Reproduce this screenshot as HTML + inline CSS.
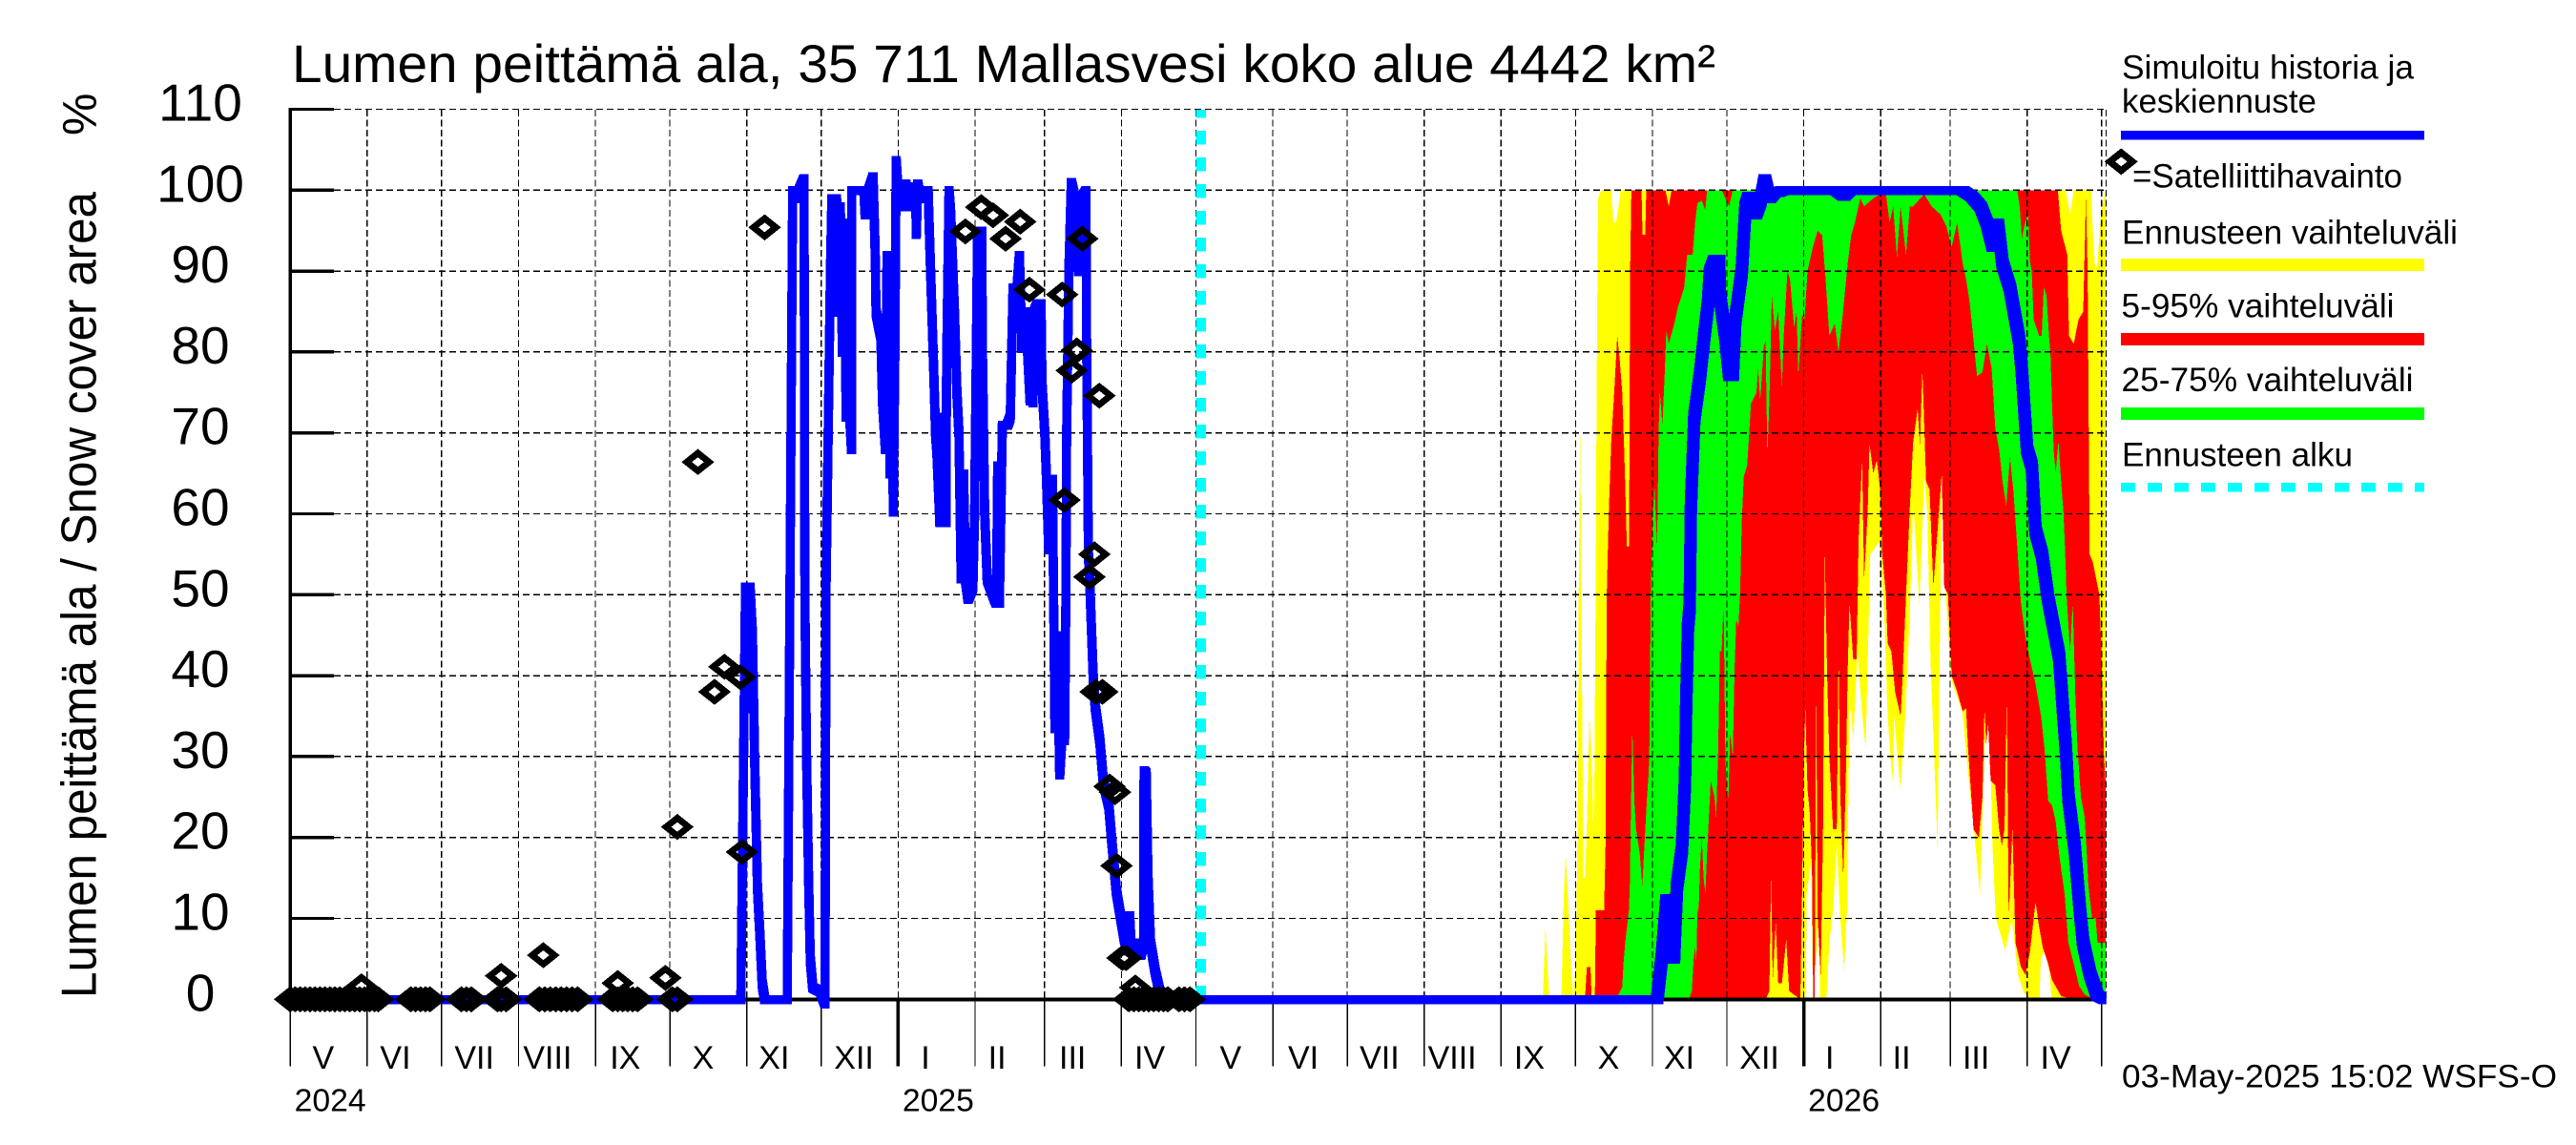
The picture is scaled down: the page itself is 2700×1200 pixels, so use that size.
<!DOCTYPE html>
<html lang="fi">
<head>
<meta charset="utf-8">
<title>Lumen peittämä ala</title>
<style>
html,body{margin:0;padding:0;background:#fff;}
svg{display:block;}
text{font-family:"Liberation Sans",sans-serif;fill:#000;}
</style>
</head>
<body>
<svg id="chart" xmlns="http://www.w3.org/2000/svg" width="2700" height="1200" viewBox="0 0 2700 1200">
  <defs>
    <clipPath id="plot-clip"><rect x="0" y="0" width="2207.8" height="1200"/></clipPath>
  </defs>
  <rect x="0" y="0" width="2700" height="1200" fill="#fff"/>
  <g id="bands"></g>
  <g id="grid"></g>
  <line x1="1258.7" y1="1047.3" x2="1258.7" y2="115" stroke="#00ffff" stroke-width="10.7" stroke-dasharray="14.5 13.5" shape-rendering="crispEdges"/>
  <g id="series" clip-path="url(#plot-clip)"></g>
  <g id="observations"></g>

  <text x="306" y="86" font-size="56" textLength="1492" lengthAdjust="spacingAndGlyphs">Lumen peittämä ala, 35 711 Mallasvesi koko alue 4442 km²</text>
  <text transform="translate(100.5 1046) rotate(-90)" x="0" y="0" font-size="52" textLength="845" lengthAdjust="spacingAndGlyphs">Lumen peittämä ala / Snow cover area</text>
  <text transform="translate(100.5 142) rotate(-90)" x="0" y="0" font-size="50">%</text>

  <g>
    <text x="2224" y="82.6" font-size="35" textLength="306" lengthAdjust="spacingAndGlyphs">Simuloitu historia ja</text>
    <text x="2224" y="118" font-size="35" textLength="204" lengthAdjust="spacingAndGlyphs">keskiennuste</text>
    <rect x="2223" y="137" width="318" height="9.7" fill="#0000ff" shape-rendering="crispEdges"/>
    <path fill="#000" fill-rule="evenodd" shape-rendering="crispEdges" d="M2205.8 169.4L2223.3 155.4L2240.8 169.4L2223.3 183.4ZM2217 169.4L2223.3 174.4L2229.6 169.4L2223.3 164.4Z"/>
    <text x="2235" y="196.3" font-size="35" textLength="283" lengthAdjust="spacingAndGlyphs">=Satelliittihavainto</text>
    <text x="2224" y="255.5" font-size="35" textLength="352" lengthAdjust="spacingAndGlyphs">Ennusteen vaihteluväli</text>
    <rect x="2223" y="271" width="318" height="13" fill="#ffff00" shape-rendering="crispEdges"/>
    <text x="2223.5" y="332.3" font-size="35" textLength="286" lengthAdjust="spacingAndGlyphs">5-95% vaihteluväli</text>
    <rect x="2223" y="349" width="318" height="13" fill="#ff0000" shape-rendering="crispEdges"/>
    <text x="2223.5" y="409.8" font-size="35" textLength="306" lengthAdjust="spacingAndGlyphs">25-75% vaihteluväli</text>
    <rect x="2223" y="427" width="318" height="13" fill="#00ff00" shape-rendering="crispEdges"/>
    <text x="2224" y="488.3" font-size="35" textLength="242" lengthAdjust="spacingAndGlyphs">Ennusteen alku</text>
    <line x1="2223" y1="510.7" x2="2541" y2="510.7" stroke="#00ffff" stroke-width="9.6" stroke-dasharray="15 13" shape-rendering="crispEdges"/>
  </g>
  <text x="2224" y="1139.3" font-size="34" textLength="456" lengthAdjust="spacingAndGlyphs">03-May-2025 15:02 WSFS-O</text>
</svg>
<script>
// ---------- axis data ----------
const yTickValues = [0,10,20,30,40,50,60,70,80,90,100,110];
const monthStartDays = [0,31,61,92,123,153,184,214,245,276,304,335,365,396,426,457,488,518,549,579,610,641,669,700,730];
const monthLabels = ['V','VI','VII','VIII','IX','X','XI','XII','I','II','III','IV','V','VI','VII','VIII','IX','X','XI','XII','I','II','III','IV'];
const monthLabelDays = [13.3,42.4,74.2,103.7,135,166.4,195,227.2,256,284.9,315.3,346.4,379,408.3,439,468.3,499.4,531.3,559.8,592.1,620.4,649.4,679.4,711.5];
const yearLabels = ['2024','2025','2026'];
const yearStartDays = [0,245,610];

// ---------- forecast contours (days since 2024-05-01, percent) ----------
const maxDays = [504.8,505.9,507.4,512.3,513.3,514,515.2,516.2,517,518.1,518.9,519.3,519.9,520.6,521.2,521.8,522.6,523.6,524.5,525.1,525.6,526.2,526.5,527.1,528.4,532.4,533.3,534.3,535.3,536.2,713,715.6,717.3,718.8,723.9,725.8,726.5,727.5,728.4,729.7,731.6];
const maxValues = [0,9,0,0,13,18,11,4,0,4,23,50,70,40,15,15,22,35,30,22,25,55,75,99,100,100,96,96,98,100,100,100,97,100,100,100,95,90,91,97,100];

const p95Days = [521.8,522.6,524,524.5,525.8,526.2,529.5,530.1,530.6,531.4,532.4,533.6,534.8,535.8,536.8,537.7,538.7,539.6,540,540.5,544.6,545,546.1,546.5,554.2,555.6,556.7,712.4,713.7,716.2,716.9,718.8,720.7,722.6,723.7,724.4,725.2,726.5,727.8,729.1,729.7,731,731.6];
const p95Values = [0,4,4,0,0,11,11,19,50,60,69,75,82,79,75,67,56,56,90,100,100,94.5,94.5,100,100,98,100,100,95,92,82,81,84,85,99,90,55,54,52,50,45,30,27];

const p75Days = [534.3,536.8,537.3,538,539.5,539.9,540.2,540.9,541.7,542.4,543.9,544.9,545.6,546.8,547.5,547.8,548.3,549,549.8,550.9,551.5,552,553,553.9,554.6,555.6,557.8,559.3,560.8,561.8,563,565.2,566.2,567.1,568.9,570.3,571,576.9,578.4,579.9,581.4,696,697,697.9,698.9,700.4,701.2,701.9,702.6,704.8,705.9,706.7,707.8,708.8,709.4,710,710.7,711.5,712.6,713.7,714.7,715.6,715.9,717.3,718.4,719.5,720.3,721.7,723.2,723.9,724.7,726.2,727.6,728.4,731.6];
const p75Values = [0,1.5,4.4,7,11,14.4,21,33.5,24.5,21,18,14,18,25,28,32,50,59,63.5,56,70.5,75,71,77,82.7,81,83.5,85.6,87,88,92,92,96,98.4,98.7,97.5,100,100,99,98,100,100,98,94,95.6,97,91,90,84,82,82,88,87,82,80,74,68,65,69,64,60,53,50,43,49,37,31,25,22.5,19,14,10,10,7,7];

const p25Days = [534.3,563.7,564.9,565.6,566.2,566.7,567.1,567.7,568.1,568.9,569.6,570.3,571,571.8,572.5,574,574.7,575.5,576.2,576.9,577.7,578.4,579,579.6,580.3,581.4,582.1,582.8,583.6,584.3,585,585.8,587.2,588,588.7,590.9,591.6,592.4,593.9,594.6,595.3,596.1,597.1,598.3,599.7,601.2,601.9,603.4,604.4,606.1,607.1,607.8,609.3,610.3,611.5,613.7,615.6,617.4,618.8,620.3,622.5,624,625.5,627.7,629.1,630.6,632.8,634.3,638,640.9,643.1,644.6,646,647.5,649,651.2,652.7,654.1,658.5,661.5,665.1,667.4,669.6,671.8,674,675.4,676.9,678.4,679.8,682,683.8,685.7,687.2,688.7,690.1,691.6,693.1,694.5,696,697.5,699.7,701.9,703.4,705.6,707,708.5,710,711.5,712.9,715.1,716.6,718.8,721,723.2,726.9,731.6];
const p25Values = [0,0,1,5,6.4,4.6,10.7,11.5,16,20,15,13,18,23,27,25,22.5,31,43,43,49,30,25,25,33,30,41,47,46,50,59,64.6,66,70,73.6,75,78,74,80.7,81.5,67,74,87,82.7,85,75.6,82,90,89,83,85,77,84.6,84,90,93,95,94.4,89,82,83.5,80,84,91,94.4,96,99,98,99,99.5,99.5,96,98,91.7,98,92,98,98,99.5,98,97,95.6,93,96,91,89,86,81.5,77,77.5,81,78,70.5,68,64,61,67,62.7,56,49,44,41,39,35,31,24.5,24,22,18,13,7,4.4,1.6,0.6,0,0];

const p5Days = [521.8,594.6,596.1,596.8,597.5,598.7,599.7,601.2,602.9,604.1,608.6,609.3,610,610.6,611.5,612.4,613.3,613.8,614.4,615,615.6,616.8,617.7,618.5,619.4,620.3,621.8,623.3,624,624.7,625.9,626.9,627.7,628.4,629.9,631.3,632.1,633.5,634.3,635.7,636.5,638,639.4,640.9,641.6,643.1,643.8,645.3,646.8,649,649.7,651.2,652.7,654.1,655.9,656.8,657.8,659.3,660.7,662.2,664.4,665.6,666.6,668.1,669.6,671.8,674,675.4,676.2,678.4,680.6,682,682.8,683.5,684.3,685.3,687.2,688.7,689.8,690.9,691.8,692.6,694.1,695.3,697.5,699.4,701.2,703.4,704.8,706.3,708.5,710,713.7,718.8,731.6];
const p5Values = [0,0,1,15,2.4,9.5,2,2,7.4,1,0,13,29,36,26,23,16,0,0,39,10,3,20,55,40,30,21,21,43,25,15,27,41,49,42,42,57,66.6,52,60,68.7,65,66.6,62.7,55,50,44,43,38,35,39,50,60.7,69,73,68.5,77.8,64,63,51,60,65,51,50,40,38,35.6,36,31,21,20,25,36,31.5,34,27,26.4,21,19,21,37,10,21,7,4,3,6,12,9,6.4,4.4,2.4,0.4,0,0];

const minDays = [504.8,610.8,611.2,613,613.7,615.9,616.6,619.1,620.3,621.8,623.3,624.7,626.2,627.4,628.4,629.1,629.9,631.6,633.6,634.9,636.8,640.6,642.5,643.8,645.7,646.4,648.9,650.9,652.8,654.1,656.6,658.6,659.8,661.1,663,663.9,665,665.6,667.5,669.5,673.9,676.5,678.4,681,682.9,684.8,686.1,687.4,691.2,693.8,696.4,698.9,701.5,705,705.5,707.3,709.2,709.8,731.6];
const minValues = [0,0,13,17,0,9.5,0,0,7,11,19,10,3.6,11,35.6,35.6,32,43,35,31,55,56.6,47,35,26.6,35,26,35,48,61.6,48.7,64.8,60,41.6,26,18.7,48.7,64,48.7,39.4,35.5,27,21.6,13,31.6,34.4,18.7,10,6,10,3,0.7,0,0,5,6,3,0,0];

// ---------- simulated history ----------
const historyDays = [
  0,181.6,183.5,185.3,186.3,187.2,188.3,189.3,190.2,191.2,
  200.3,202.5,203.7,207.1,207.4,208.1,208.9,209.6,210.6,213.7,
  215.5,215.8,215.9,217.7,218.3,220.2,220.8,221.7,222.5,223.4,
  224,224.9,225.5,226.2,226.3,231.2,231.7,233.1,234.9,235.8,
  236.1,238,238.7,239.9,240.5,241.4,241.7,242.4,243,243.7,
  244.2,245.2,247.1,248.1,249.3,250.8,252,252.3,252.9,254,
  255.2,257.1,258.1,259.3,260.1,260.6,261.8,262.6,263.3,264.3,
  264.5,265.5,266.2,267.7,268.7,269.5,270.4,271.4,272.1,273.2,
  275.1,275.8,276.5,277,278.7,279,279.9,280.9,283.9,284.6,
  285.1,285.8,287,289,290.2,291.3,292.7,293.9,294.9,296.1,
  297.1,298.2,299,299.4,299.8,301.1,302.6,303,304.1,304.8,
  305.7,307.2,308.2,309.1,310.1,311.1,312.1,312.6,312.9,313.8,
  314.8,316.3,317.7,319.2,320.7,321,321.7,322.2,323.6,324.4,
  326.3,327.7,329.9,331,332.9,336.1,337.4,338.3,339,340.6,
  342.8,343.9,344.1,345,345.7,346.7,348.6,350.8,353];
const historyValues = [
  0,0,51,51,45,29,14,8,2,0,
  0,100,99,101.5,50,30,15,5,1.5,1,
  -0.5,30,50,90,99,99,85,98,80,96,
  72,92,72,68,100,100,97,100,101.7,92,
  85,82,74,68,92,92,65,90,60.3,80,
  103.7,98.5,98,100.8,98,99,100.5,94.6,100.8,99,
  100,100,90,78,70,68,59,72,59,59,
  78,100,97,85,75,70,52,65,52,49.5,
  51,60,80,95,95,80,60,52,49.5,49,
  66,49,71,71,72,88,87,92,80.5,85,
  80.5,74,84,73.8,85,86,86,76,70,64.3,
  55.6,64.3,33.5,45,27.8,33,32,50,70,90,
  101,99,90,99,100,80,55,52,40,36.3,
  32,27,24,20,13.5,7.6,6,10.4,6,7,
  5.5,7,28.3,28,15,7,3.5,0.5,0];

// ---------- mean forecast ----------
const forecastMeanDays = [
  550.9,552.7,554.7,555.9,557.1,557.7,558.9,560.9,562.1,562.5,
  563.3,564,564.5,565.9,568.1,569.9,571.4,572.2,574,575.9,
  576.2,578.4,580,581.4,582.4,585,586.5,587.7,589.7,590.6,
  592.4,594.3,596.1,598.3,599.7,601.2,623.2,626.2,628.4,674,
  677.6,681.3,683.8,686.2,688.2,690.1,693.1,696.8,697.8,699,
  700,701.9,703.4,706,708.5,712.9,715.6,716.7,719.1,721.3,
  722.6,725.4,728.4,731.6];
const forecastMeanValues = [
  0,5,12.5,12.5,5,5,14,18.6,27,35,
  46,48.5,61,72,77,82,86,90,91.5,91.5,
  87,82,77,77,84,90,98,99.3,99.3,97,
  98.5,101.5,99,99.8,99.8,100,100,99.3,100,100,
  99.3,98,96,93,96,91,88,81.5,78,72.5,
  68,66,58,55,49.5,42.5,31,25,19,11,
  7,3.2,0.5,0];

// ---------- satellite observations ----------
const obsDays = [0,2,4,6,8,10,12,14,16,18,20,22,24,26,28,30,32,34,35.5,28.7,48.6,50.5,52.5,54.5,56.3,69,71,73,83.5,85,87,85,102,100.4,102.6,104.8,107,109.2,111.4,113.6,115.8,132,130,132,134,136,138,140,151.2,154,156,156,164.3,171,175,181.4,182.1,191.2,272.1,278.5,283.2,288.3,294.2,297.9,311.1,312,315,317,319.2,322.1,324.1,324.6,326.1,327.3,330.2,332.4,333,335.4,336.9,338,340,340.6,342,344,346,348,350,352,353.7,358.2,360.4,362.6];
const obsValues = [0,0,0,0,0,0,0,0,0,0,0,0,0,0,0,0,0,0,0,1.6,0,0,0,0,0,0,0,0,0,0,0,2.9,5.45,0,0,0,0,0,0,0,0,2,0,0,0,0,0,0,2.65,0,0,21.3,66.4,38,41.1,39.8,18.2,95.4,94.9,97.9,96.9,94,96.1,87.7,87.1,61.7,77.7,80.2,94,52.2,55,38,74.6,38,26.3,25.6,16.5,5.1,5.1,0,0,1.45,0,0,0,0,0,0,0,0,0,0];

// ---------- axis functions ----------
const xAxis = d => 304.2 + 2.6007 * d;
const yAxis = v => 1047.3 - 8.48 * v;
const NS = 'http://www.w3.org/2000/svg';
const make = (tag, parent) => { const e = document.createElementNS(NS, tag); parent.appendChild(e); return e; };

// ---------- bands ----------
const bandsG = document.getElementById('bands');
function bandPath(topD, topV, botD, botV) {
  let s = '';
  for (let i = 0; i < topD.length; i++) s += (i ? 'L' : 'M') + xAxis(topD[i]).toFixed(1) + ' ' + yAxis(topV[i]).toFixed(1);
  for (let i = botD.length - 1; i >= 0; i--) s += 'L' + xAxis(botD[i]).toFixed(1) + ' ' + yAxis(botV[i]).toFixed(1);
  return s + 'Z';
}
const rangeBand = make('path', bandsG);


rangeBand.setAttribute('d', bandPath(maxDays, maxValues, minDays, minValues));
rangeBand.setAttribute('fill', '#ffff00');
rangeBand.setAttribute('shape-rendering', 'crispEdges');

const band595 = make('path', bandsG);


band595.setAttribute('d', bandPath(p95Days, p95Values, p5Days, p5Values));
band595.setAttribute('fill', '#ff0000');
band595.setAttribute('shape-rendering', 'crispEdges');

const band2575 = make('path', bandsG);


band2575.setAttribute('d', bandPath(p75Days, p75Values, p25Days, p25Values));
band2575.setAttribute('fill', '#00ff00');
band2575.setAttribute('shape-rendering', 'crispEdges');

// ---------- grid and axes ----------
const gridG = document.getElementById('grid');
yTickValues.forEach(v => {
  const y = yAxis(v);
  if (v !== 0) {
    const g = make('line', gridG);
    
    
    g.setAttribute('x1', 350); g.setAttribute('x2', 2207.5);
    g.setAttribute('y1', y); g.setAttribute('y2', y);
    g.setAttribute('stroke', '#000'); g.setAttribute('stroke-width', 1.4);
    g.setAttribute('stroke-dasharray', '7 4');
    g.setAttribute('shape-rendering', 'crispEdges');
  }
  const t = make('line', gridG);
  
  
  t.setAttribute('x1', 304); t.setAttribute('x2', 350);
  t.setAttribute('y1', y); t.setAttribute('y2', y);
  t.setAttribute('stroke', '#000'); t.setAttribute('stroke-width', 3.4);
  t.setAttribute('shape-rendering', 'crispEdges');
  const l = make('text', gridG);
  
  
  l.setAttribute('x', 210); l.setAttribute('y', y + 12);
  l.setAttribute('font-size', 55);
  l.setAttribute('text-anchor', 'middle');
  l.textContent = String(v);
});
monthStartDays.forEach((d, i) => {
  const x = xAxis(d);
  if (i > 0) {
    const g = make('line', gridG);
    
    
    g.setAttribute('x1', x); g.setAttribute('x2', x);
    g.setAttribute('y1', 115); g.setAttribute('y2', 1047);
    g.setAttribute('stroke', '#000'); g.setAttribute('stroke-width', 1.2);
    g.setAttribute('stroke-dasharray', '7 3.5');
    g.setAttribute('shape-rendering', 'crispEdges');
  }
  const isYear = yearStartDays.includes(d) && d !== 0;
  const t = make('line', gridG);
  
  
  t.setAttribute('x1', x); t.setAttribute('x2', x);
  t.setAttribute('y1', 1047); t.setAttribute('y2', 1117.5);
  t.setAttribute('stroke', '#000'); t.setAttribute('stroke-width', isYear ? 3.6 : 1.4);
  t.setAttribute('shape-rendering', 'crispEdges');
});
monthLabels.forEach((m, i) => {
  const l = make('text', gridG);
  
  
  l.setAttribute('x', xAxis(monthLabelDays[i])); l.setAttribute('y', 1120);
  l.setAttribute('font-size', 34);
  l.setAttribute('text-anchor', 'middle');
  l.textContent = m;
});
yearLabels.forEach((yr, i) => {
  const l = make('text', gridG);
  
  
  l.setAttribute('x', xAxis(yearStartDays[i]) + 4.5); l.setAttribute('y', 1164.3);
  l.setAttribute('font-size', 33);
  l.setAttribute('textLength', 75);
  l.setAttribute('lengthAdjust', 'spacingAndGlyphs');
  l.textContent = yr;
});
const frameRight = make('line', gridG);


frameRight.setAttribute('x1', 2207.5); frameRight.setAttribute('x2', 2207.5);
frameRight.setAttribute('y1', 115); frameRight.setAttribute('y2', 1047);
frameRight.setAttribute('stroke', '#000'); frameRight.setAttribute('stroke-width', 1.2);
frameRight.setAttribute('stroke-dasharray', '7 3.5');
frameRight.setAttribute('shape-rendering', 'crispEdges');

const axisY = make('line', gridG);


axisY.setAttribute('x1', 304.2); axisY.setAttribute('x2', 304.2);
axisY.setAttribute('y1', 113); axisY.setAttribute('y2', 1047);
axisY.setAttribute('stroke', '#000'); axisY.setAttribute('stroke-width', 3.4);
axisY.setAttribute('shape-rendering', 'crispEdges');

const axisX = make('line', gridG);


axisX.setAttribute('x1', 304); axisX.setAttribute('x2', 2207.5);
axisX.setAttribute('y1', 1047.3); axisX.setAttribute('y2', 1047.3);
axisX.setAttribute('stroke', '#000'); axisX.setAttribute('stroke-width', 4);
axisX.setAttribute('shape-rendering', 'crispEdges');

// ---------- mean line drawn with a rectangular pen ----------
const NIB_Y = 4.8;
const NIB_X_HISTORY = 4.8;
const NIB_X_FORECAST = 6.5;
const allMeanDays = historyDays.concat(forecastMeanDays);
const allMeanValues = historyValues.concat(forecastMeanValues);
let meanPathData = '';
for (let i = 0; i < allMeanDays.length - 1; i++) {
  const nx = i >= historyDays.length ? NIB_X_FORECAST : NIB_X_HISTORY;
  const x0 = xAxis(allMeanDays[i]), y0 = yAxis(allMeanValues[i]) + 0.5;
  const x1 = xAxis(allMeanDays[i + 1]), y1 = yAxis(allMeanValues[i + 1]) + 0.5;
  let pts;
  if (y1 <= y0) {
    pts = [[x0-nx,y0-NIB_Y],[x1-nx,y1-NIB_Y],[x1+nx,y1-NIB_Y],[x1+nx,y1+NIB_Y],[x0+nx,y0+NIB_Y],[x0-nx,y0+NIB_Y]];
  } else {
    pts = [[x0-nx,y0-NIB_Y],[x0+nx,y0-NIB_Y],[x1+nx,y1-NIB_Y],[x1+nx,y1+NIB_Y],[x1-nx,y1+NIB_Y],[x0-nx,y0+NIB_Y]];
  }
  meanPathData += 'M' + pts.map(p => p[0].toFixed(1) + ' ' + p[1].toFixed(1)).join('L') + 'Z';
}
const meanLine = make('path', document.getElementById('series'));


meanLine.setAttribute('d', meanPathData);
meanLine.setAttribute('fill', '#0000ff');
meanLine.setAttribute('fill-rule', 'nonzero');
meanLine.setAttribute('shape-rendering', 'crispEdges');

// ---------- observation diamonds ----------
const obsG = document.getElementById('observations');
obsDays.forEach((d, i) => {
  const cx = xAxis(d), cy = yAxis(obsValues[i]);
  const m = make('path', obsG);
  
  
  m.setAttribute('d',
    'M' + (cx-17.2) + ' ' + cy + 'L' + cx + ' ' + (cy-13.7) + 'L' + (cx+17.2) + ' ' + cy + 'L' + cx + ' ' + (cy+13.7) + 'Z' +
    'M' + (cx-6.3) + ' ' + cy + 'L' + cx + ' ' + (cy+5) + 'L' + (cx+6.3) + ' ' + cy + 'L' + cx + ' ' + (cy-5) + 'Z');
  m.setAttribute('fill', '#000');
  m.setAttribute('fill-rule', 'evenodd');
  m.setAttribute('shape-rendering', 'crispEdges');
});
</script>
</body>
</html>
